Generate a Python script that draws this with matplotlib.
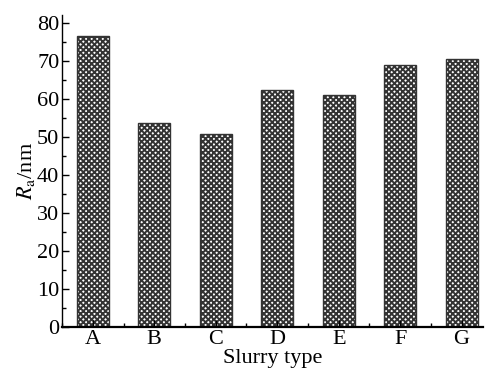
import matplotlib

matplotlib.use("Agg")
import matplotlib.pyplot as plt
from matplotlib.ticker import MultipleLocator, FixedLocator

slurry_types = ["A", "B", "C", "D", "E", "F", "G"]
ra_values = [76.6, 53.6, 50.8, 62.3, 61.0, 68.9, 70.5]

plt.rcParams["font.family"] = "Liberation Serif"
plt.rcParams["mathtext.fontset"] = "stix"
plt.rcParams["hatch.linewidth"] = 1.4
plt.rcParams["hatch.color"] = "#1a1a1a"

fig = plt.figure(figsize=(4.89, 3.70), dpi=100)
ax = fig.add_axes([0.127, 0.115, 0.861, 0.844])

x = list(range(len(slurry_types)))
ax.bar(x, ra_values, width=0.52, facecolor="white", edgecolor="#333333",
       hatch="xxxxxx", linewidth=1.0)

ax.set_xlim(-0.5, 6.35)
ax.set_ylim(0, 82)
ax.set_xticks(x)
ax.set_xticklabels(slurry_types)
ax.xaxis.set_minor_locator(FixedLocator([i + 0.5 for i in range(-1, 7)]))
ax.yaxis.set_major_locator(MultipleLocator(10))
ax.yaxis.set_minor_locator(MultipleLocator(5))
ax.tick_params(axis="both", which="major", direction="in", length=5, width=1.0,
               labelsize=16, pad=2)
ax.tick_params(axis="both", which="minor", direction="in", length=3, width=1.0)

for side in ["top", "right"]:
    ax.spines[side].set_visible(False)
ax.spines["left"].set_linewidth(1.0)
ax.spines["bottom"].set_linewidth(1.6)

ax.set_xlabel("Slurry type", fontsize=16, labelpad=0)
ax.set_ylabel(r"$R_{\rm a}$/nm", fontsize=16, labelpad=0)

fig.savefig("out.png", dpi=100)
